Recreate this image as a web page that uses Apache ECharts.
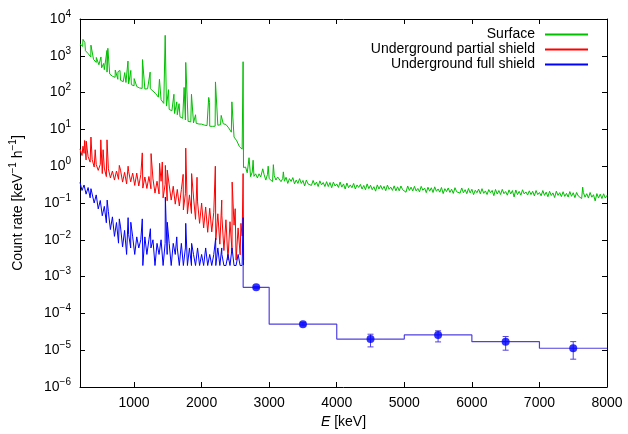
<!DOCTYPE html>
<html>
<head>
<meta charset="utf-8">
<script src="https://cdn.jsdelivr.net/npm/echarts@6/dist/echarts.min.js"></script>
<style>html,body{margin:0;padding:0;background:#fff}#chart{width:628px;height:434px}</style>
</head>
<body>
<div id="chart"></div>
<script>
// axis ticks
const xTicks = [1000, 2000, 3000, 4000, 5000, 6000, 7000, 8000];
const yTicks = [1e-6, 1e-5, 1e-4, 1e-3, 1e-2, 1e-1, 1e0, 1e1, 1e2, 1e3, 1e4];

// Surface spectrum: 200..2600 keV every 40 keV, then 2650..8000 every 25 keV
const greenLowStart = 200, greenLowStep = 40;
const greenLow = [2100, 1800, 1380, 1150, 930, 800, 660, 570, 470, 420,
  360, 320, 278, 260, 230, 216, 198, 188, 172, 164,
  153, 146, 134, 130, 125, 127, 128, 110, 94, 75,
  64, 51, 43, 35, 32, 27, 25, 22, 20, 18,
  16.5, 16, 15, 14.6, 14, 13.9, 13.1, 12.7, 12.2, 12.1,
  12.2, 13, 13.4, 14.2, 13.6, 11, 8.4, 6.2, 4.9, 3.4,
  2.9];
const greenTailStart = 2650, greenTailStep = 25;
const greenTail = [0.95, 0.66, 0.71, 0.52, 0.70, 0.53, 0.62, 0.48, 0.62, 0.51,
  0.47, 0.59, 0.42, 0.60, 0.46, 0.52, 0.38, 0.55, 0.42, 0.51,
  0.55, 0.38, 0.46, 0.39, 0.50, 0.34, 0.46, 0.385, 0.49, 0.33,
  0.42, 0.34, 0.46, 0.34, 0.41, 0.29, 0.42, 0.33, 0.37, 0.30,
  0.41, 0.31, 0.37, 0.28, 0.40, 0.31, 0.36, 0.28, 0.38, 0.28,
  0.36, 0.26, 0.37, 0.29, 0.33, 0.265, 0.37, 0.27, 0.33, 0.24,
  0.35, 0.26, 0.31, 0.26, 0.34, 0.24, 0.31, 0.265, 0.32, 0.24,
  0.30, 0.23, 0.33, 0.245, 0.305, 0.23, 0.277, 0.21, 0.31, 0.24,
  0.30, 0.233, 0.284, 0.216, 0.307, 0.235, 0.27, 0.22, 0.292, 0.214,
  0.275, 0.214, 0.29, 0.23, 0.258, 0.196, 0.29, 0.219, 0.27, 0.212,
  0.283, 0.213, 0.248, 0.201, 0.283, 0.221, 0.255, 0.191, 0.268, 0.209,
  0.259, 0.193, 0.275, 0.208, 0.241, 0.197, 0.264, 0.18, 0.245, 0.204,
  0.256, 0.194, 0.237, 0.182, 0.26, 0.202, 0.227, 0.185, 0.256, 0.189,
  0.23, 0.179, 0.248, 0.188, 0.236, 0.169, 0.222, 0.19, 0.239, 0.178,
  0.245, 0.183, 0.213, 0.17, 0.232, 0.189, 0.22, 0.158, 0.233, 0.175,
  0.218, 0.17, 0.235, 0.179, 0.205, 0.163, 0.227, 0.176, 0.218, 0.146,
  0.226, 0.169, 0.207, 0.163, 0.229, 0.176, 0.2, 0.164, 0.214, 0.169,
  0.208, 0.156, 0.218, 0.169, 0.193, 0.157, 0.218, 0.161, 0.197, 0.148,
  0.208, 0.16, 0.188, 0.141, 0.209, 0.161, 0.191, 0.149, 0.202, 0.151,
  0.183, 0.145, 0.204, 0.152, 0.19, 0.14, 0.193, 0.155, 0.174, 0.132,
  0.194, 0.144, 0.179, 0.136, 0.193, 0.144, 0.168, 0.114, 0.18, 0.136,
  0.174, 0.132, 0.178, 0.136, 0.162];
const greenPeaks = [[244, 2800], [272, 2300], [362, 1950], [442, 900], [510, 930], [550, 620],
  [599, 1400], [612, 1600], [722, 410], [762, 370], [792, 400], [862, 350], [910, 720],
  [952, 400], [1002, 240], [1125, 790], [1238, 360], [1376, 230], [1461, 3600], [1510, 120],
  [1590, 90], [1632, 56], [1666, 50], [1741, 138], [1765, 660], [1850, 90], [1910, 25],
  [2105, 74], [2118, 54], [2205, 195], [2290, 24], [2448, 56], [2614, 690], [2620, 0.92],
  [2702, 1.7], [2762, 1.45], [2905, 0.85], [2985, 1.0], [3062, 1.1], [3210, 0.7], [7640, 0.27]];

// Underground partial shield: 200..2600 keV every 30 keV
const redStart = 200, redStep = 30;
const redRates = [2.95, 1.95, 2.24, 1.48, 1.82, 1.29, 1.51, 0.95, 1.12, 0.77,
  1.12, 0.63, 0.89, 0.52, 0.85, 0.48, 0.74, 0.42, 0.74, 0.44,
  0.78, 0.37, 0.68, 0.33, 0.72, 0.376, 0.65, 0.30, 0.65, 0.29,
  0.59, 0.254, 0.51, 0.248, 0.525, 0.243, 0.45, 0.186, 0.39, 0.176,
  0.39, 0.138, 0.32, 0.115, 0.31, 0.12, 0.285, 0.093, 0.234, 0.083,
  0.23, 0.065, 0.178, 0.051, 0.166, 0.052, 0.145, 0.036, 0.107, 0.028,
  0.10, 0.021, 0.078, 0.016, 0.072, 0.0164, 0.056, 0.0098, 0.051, 0.0076,
  0.045, 0.0051, 0.035, 0.0028, 0.031, 0.0049, 0.025, 0.0028, 0.021, 0.0039,
  0.0126];
const redPeaks = [[244, 3.5], [268, 5.0], [292, 4.8], [362, 6.2], [425, 2.8], [508, 5.2],
  [542, 2.8], [600, 5.2], [782, 1.05], [912, 1.0], [1122, 2.3], [1252, 2.2], [1378, 1.2],
  [1418, 1.3], [1463, 1.05], [1492, 0.78], [1727, 0.6], [1765, 3.1], [1852, 0.63],
  [1932, 0.5], [2203, 1.0], [2298, 0.12], [2452, 0.37], [2497, 0.07], [2582, 0.028],
  [2614, 0.63], [2622, 0.0028]];

// Underground full shield: 200..2600 keV every 30 keV
const blueStart = 200, blueStep = 30;
const blueRates = [0.363, 0.219, 0.309, 0.174, 0.263, 0.138, 0.219, 0.10, 0.166, 0.069,
  0.117, 0.045, 0.081, 0.029, 0.058, 0.019, 0.042, 0.0124, 0.0295, 0.0081,
  0.0224, 0.0064, 0.018, 0.004, 0.014, 0.006, 0.012, 0.004, 0.012, 0.006,
  0.010, 0.002, 0.012, 0.004, 0.010, 0.006, 0.010, 0.002, 0.008, 0.004,
  0.010, 0.002, 0.008, 0.004, 0.008, 0.002, 0.008, 0.004, 0.006, 0.002,
  0.008, 0.002, 0.006, 0.002, 0.006, 0.002, 0.004, 0.002, 0.006, 0.002,
  0.004, 0.002, 0.006, 0.002, 0.004, 0.002, 0.004, 0.002, 0.006, 0.002,
  0.004, 0.002, 0.002, 0.004, 0.002, 0.006, 0.002, 0.002, 0.004, 0.002,
  0.002];
const bluePeaks = [[362, 0.245], [602, 0.12], [782, 0.037], [912, 0.04], [952, 0.03],
  [1122, 0.037], [1242, 0.02], [1463, 0.145], [1492, 0.03], [1632, 0.012], [1765, 0.028],
  [1852, 0.008], [2208, 0.011], [2298, 0.006], [2614, 0.04], [2620, 0.002]];
const fullShieldFloor = 0.002;

// binned high-energy rate, full shield
const binEdges = [2615, 3000, 4000, 5000, 6000, 7000, 8000];
const binRates = [5.1e-4, 5.1e-5, 2.0e-5, 2.6e-5, 1.7e-5, 1.13e-5];
const pointE = [2808, 3500, 4500, 5500, 6500, 7500];
const errLow = [4.8e-4, 4.6e-5, 1.23e-5, 1.68e-5, 1.0e-5, 5.7e-6];
const errHigh = [5.4e-4, 5.6e-5, 2.72e-5, 3.36e-5, 2.35e-5, 1.71e-5];

const font = '"Liberation Sans", Arial, sans-serif';
const green = '#00c000', red = '#ff0000', blue = '#0000ff', stepColor = '#5040e0';

function spectrum(start, step, rates) {
  return rates.map((r, i) => [start + i * step, r]);
}
const byE = (a, b) => a[0] - b[0];
const greenData = spectrum(greenLowStart, greenLowStep, greenLow)
  .concat(spectrum(greenTailStart, greenTailStep, greenTail), greenPeaks).sort(byE);
const redData = spectrum(redStart, redStep, redRates).concat(redPeaks).sort(byE);
const blueData = spectrum(blueStart, blueStep, blueRates).concat(bluePeaks).sort(byE);

const stepData = [[binEdges[0], fullShieldFloor]];
binRates.forEach((r, i) => stepData.push([binEdges[i], r]));
stepData.push([binEdges[binEdges.length - 1], binRates[binRates.length - 1]]);

const supRich = {
  b: {fontSize: 14, lineHeight: 20, fontFamily: font, color: '#000'},
  e: {fontSize: 10, lineHeight: 11, verticalAlign: 'top', fontFamily: font, color: '#000'}
};

const chart = echarts.init(document.getElementById('chart'), null, {renderer: 'canvas'});

const axisLine = {show: true, lineStyle: {color: '#000', width: 1}};
const tick = {show: true, inside: true, length: 5, lineStyle: {color: '#000', width: 1}};

const option = {
  animation: false,
  backgroundColor: '#fff',
  grid: {left: 80, right: 21, top: 19, bottom: 47},
  legend: {
    data: ['Surface', 'Underground partial shield', 'Underground full shield'],
    orient: 'vertical',
    align: 'right',
    right: 35,
    top: 22,
    icon: 'rect',
    itemWidth: 43,
    itemHeight: 2,
    itemGap: 0,
    textStyle: {fontSize: 14, lineHeight: 15, fontFamily: font, color: '#000', padding: [0, 5, 0, 0]}
  },
  xAxis: [{
    type: 'value', min: 200, max: 8000, position: 'bottom',
    name: '{i|E}{n| [keV]}', nameLocation: 'middle', nameGap: 27,
    nameTextStyle: {rich: {
      i: {fontSize: 14, fontStyle: 'italic', fontFamily: font, color: '#000'},
      n: {fontSize: 14, fontFamily: font, color: '#000'}}},
    axisLine: axisLine,
    axisTick: Object.assign({customValues: xTicks}, tick),
    axisLabel: {customValues: xTicks, formatter: v => String(v),
      fontSize: 14, fontFamily: font, color: '#000', margin: 9},
    splitLine: {show: false}
  }, {
    type: 'value', min: 200, max: 8000, position: 'top',
    axisLine: axisLine,
    axisTick: Object.assign({customValues: xTicks}, tick),
    axisLabel: {show: false},
    splitLine: {show: false}
  }],
  yAxis: [{
    type: 'log', logBase: 10, min: 1e-6, max: 1e4, position: 'left',
    name: '{b|Count rate [keV}{e|\u22121}{b| h}{e|\u22121}{b|]}',
    nameLocation: 'middle', nameRotate: 90, nameGap: 52,
    nameTextStyle: {rich: supRich},
    axisLine: axisLine,
    axisTick: Object.assign({customValues: yTicks}, tick),
    axisLabel: {
      customValues: yTicks, margin: 9, rich: supRich,
      formatter: v => '{b|10}{e|' + String(Math.round(Math.log10(v))).replace('-', '\u2212') + '}'
    },
    splitLine: {show: false}
  }, {
    type: 'log', logBase: 10, min: 1e-6, max: 1e4, position: 'right',
    axisLine: axisLine,
    axisTick: Object.assign({customValues: yTicks}, tick),
    axisLabel: {show: false}, splitLine: {show: false}
  }],
  series: [
    {name: 'Surface', type: 'line', data: greenData, symbol: 'none',
      lineStyle: {color: green, width: 1}, itemStyle: {color: green}, z: 2},
    {name: 'Underground partial shield', type: 'line', data: redData, symbol: 'none',
      lineStyle: {color: red, width: 1}, itemStyle: {color: red}, z: 3},
    {name: 'Underground full shield', type: 'line', data: blueData, symbol: 'none',
      lineStyle: {color: blue, width: 1}, itemStyle: {color: blue}, z: 4},
    {name: 'binned', type: 'line', data: stepData, step: 'end', symbol: 'none',
      lineStyle: {color: stepColor, width: 1.2}, z: 5},
    {name: 'errors', type: 'custom', z: 6,
      data: pointE.map((e, i) => [e, errLow[i], errHigh[i]]),
      encode: {x: 0, y: [1, 2]},
      renderItem: (params, api) => {
        const lo = api.coord([api.value(0), api.value(1)]);
        const hi = api.coord([api.value(0), api.value(2)]);
        const w = 3, st = {stroke: stepColor, lineWidth: 1};
        return {type: 'group', children: [
          {type: 'line', shape: {x1: lo[0], y1: lo[1], x2: hi[0], y2: hi[1]}, style: st},
          {type: 'line', shape: {x1: lo[0] - w, y1: lo[1], x2: lo[0] + w, y2: lo[1]}, style: st},
          {type: 'line', shape: {x1: hi[0] - w, y1: hi[1], x2: hi[0] + w, y2: hi[1]}, style: st}
        ]};
      }},
    {name: 'points', type: 'scatter', data: pointE.map((e, i) => [e, binRates[i]]),
      symbol: 'circle', symbolSize: 8, itemStyle: {color: blue}, z: 7}
  ]
};

chart.setOption(option);
window.addEventListener('resize', chart.resize);
</script>
</body>
</html>
